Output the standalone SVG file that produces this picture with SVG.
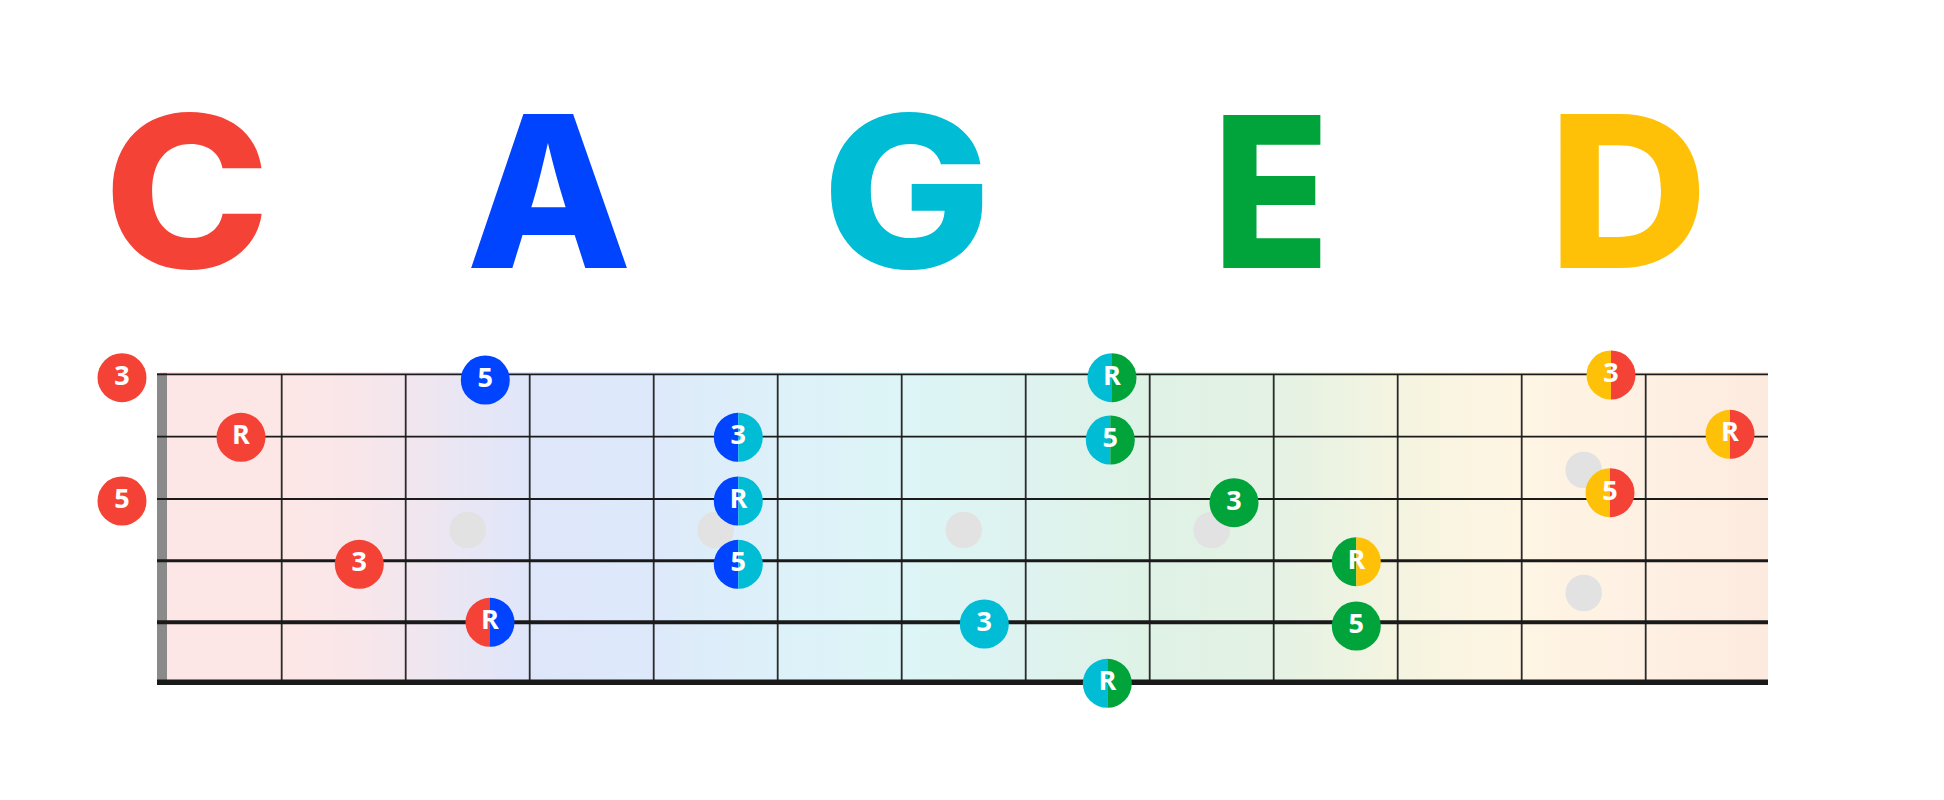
<svg xmlns="http://www.w3.org/2000/svg" width="1944" height="800" viewBox="0 0 1944 800">
<defs>
<linearGradient id="bg" x1="167" y1="0" x2="1768" y2="0" gradientUnits="userSpaceOnUse">
<stop offset="0" stop-color="#FDE6E6"/>
<stop offset="0.0706" stop-color="#FDE6E6"/>
<stop offset="0.1018" stop-color="#FBE6E8"/>
<stop offset="0.1487" stop-color="#F3E6EE"/>
<stop offset="0.1893" stop-color="#E8E6F5"/>
<stop offset="0.2267" stop-color="#DFE6FA"/>
<stop offset="0.3017" stop-color="#DDE9FA"/>
<stop offset="0.3829" stop-color="#DDF1F9"/>
<stop offset="0.4578" stop-color="#DDF5F7"/>
<stop offset="0.5359" stop-color="#DEF3F0"/>
<stop offset="0.614" stop-color="#DFF2E6"/>
<stop offset="0.692" stop-color="#E4F2E4"/>
<stop offset="0.7702" stop-color="#F5F4E0"/>
<stop offset="0.8451" stop-color="#FEF5E3"/>
<stop offset="0.914" stop-color="#FEF1E3"/>
<stop offset="1" stop-color="#FDEADF"/>
</linearGradient>
<path id="hl" d="M0,-24.5A24.5,24.5 0 0 0 0,24.5Z"/>
<path id="hr" d="M0,-24.5A24.5,24.5 0 0 1 0,24.5Z"/>
</defs>
<style>
.big{font-family:Inter,"Liberation Sans",sans-serif;font-weight:800;font-size:211px;text-anchor:middle}
.lbl{font-family:"Open Sans","DejaVu Sans",sans-serif;font-weight:700;font-size:27px;fill:#fff;text-anchor:middle}
.fret{stroke:#2a2a2a;stroke-width:1.8}
.str{stroke:#1a1a1a}
.dot{fill:#e2e2e2}
.red{fill:#F44336}
.blue{fill:#0044FF}
.cyan{fill:#00BCD4}
.green{fill:#00A43A}
.yellow{fill:#FFC107}
</style>
<rect width="1944" height="800" fill="#fff"/>

<g id="title">
<text class="big red" transform="translate(187,267.7) scale(1.06,1)">C</text>
<text class="big blue" transform="translate(549,267.7) scale(1.02,1)">A</text>
<text class="big cyan" transform="translate(907,267.7) scale(1.07,1)">G</text>
<text class="big green" transform="translate(1271,267.7) scale(0.91,1)">E</text>
<text class="big yellow" transform="translate(1628,267.7) scale(1.05,1)">D</text>
</g>

<g id="fretboard">
<rect x="160" y="372" width="1608" height="312" fill="url(#bg)"/>
<rect x="157" y="373" width="10" height="311" fill="#8a8a8a"/>
<g id="frets">
<line class="fret" x1="281.7" y1="374" x2="281.7" y2="682"/>
<line class="fret" x1="405.7" y1="374" x2="405.7" y2="682"/>
<line class="fret" x1="529.7" y1="374" x2="529.7" y2="682"/>
<line class="fret" x1="653.7" y1="374" x2="653.7" y2="682"/>
<line class="fret" x1="777.7" y1="374" x2="777.7" y2="682"/>
<line class="fret" x1="901.7" y1="374" x2="901.7" y2="682"/>
<line class="fret" x1="1025.7" y1="374" x2="1025.7" y2="682"/>
<line class="fret" x1="1149.7" y1="374" x2="1149.7" y2="682"/>
<line class="fret" x1="1273.7" y1="374" x2="1273.7" y2="682"/>
<line class="fret" x1="1397.7" y1="374" x2="1397.7" y2="682"/>
<line class="fret" x1="1521.7" y1="374" x2="1521.7" y2="682"/>
<line class="fret" x1="1645.7" y1="374" x2="1645.7" y2="682"/>
</g>
<g id="strings">
<line class="str" x1="157" y1="374.3" x2="1768" y2="374.3" stroke-width="1.8"/>
<line class="str" x1="157" y1="436.7" x2="1768" y2="436.7" stroke-width="1.8"/>
<line class="str" x1="157" y1="499" x2="1768" y2="499" stroke-width="1.8"/>
<line class="str" x1="157" y1="560.7" x2="1768" y2="560.7" stroke-width="3"/>
<line class="str" x1="157" y1="622.3" x2="1768" y2="622.3" stroke-width="4"/>
<line class="str" x1="157" y1="682.3" x2="1768" y2="682.3" stroke-width="5.5"/>
</g>
<g id="inlays">
<circle class="dot" cx="467.7" cy="530" r="18.3"/>
<circle class="dot" cx="715.7" cy="530" r="18.3"/>
<circle class="dot" cx="963.7" cy="530" r="18.3"/>
<circle class="dot" cx="1211.7" cy="530" r="18.3"/>
<circle class="dot" cx="1583.7" cy="470" r="18.3"/>
<circle class="dot" cx="1583.7" cy="593" r="18.3"/>
</g>
</g>

<g id="connectors"></g>

<g id="c-3-open" transform="translate(122,377.7)"><circle r="24.5" class="red"/><text class="lbl" y="7">3</text></g>
<g id="c-5-open" transform="translate(122,501)"><circle r="24.5" class="red"/><text class="lbl" y="7">5</text></g>
<g id="c-r" transform="translate(241,437.3)"><circle r="24.5" class="red"/><text class="lbl" y="7">R</text></g>
<g id="c-3" transform="translate(359.3,564.3)"><circle r="24.5" class="red"/><text class="lbl" y="7">3</text></g>
<g id="a-5" transform="translate(485.3,380)"><circle r="24.5" class="blue"/><text class="lbl" y="7">5</text></g>
<g id="ca-r" transform="translate(490,622.3)"><use href="#hl" class="red"/><use href="#hr" class="blue"/><text class="lbl" y="7">R</text></g>

<g id="ag-3" transform="translate(738.3,437.3)"><use href="#hl" class="blue"/><use href="#hr" class="cyan"/><text class="lbl" y="7">3</text></g>
<g id="ag-r" transform="translate(738.3,501)"><use href="#hl" class="blue"/><use href="#hr" class="cyan"/><text class="lbl" y="7">R</text></g>
<g id="ag-5" transform="translate(738.3,564.3)"><use href="#hl" class="blue"/><use href="#hr" class="cyan"/><text class="lbl" y="7">5</text></g>
<g id="g-3" transform="translate(984.3,624)"><circle r="24.5" class="cyan"/><text class="lbl" y="7">3</text></g>

<g id="ge-r-top" transform="translate(1112,377.7)"><use href="#hl" class="cyan"/><use href="#hr" class="green"/><text class="lbl" y="7">R</text></g>
<g id="ge-5" transform="translate(1110.3,440)"><use href="#hl" class="cyan"/><use href="#hr" class="green"/><text class="lbl" y="7">5</text></g>
<g id="ge-r-low" transform="translate(1107.3,683.3)"><use href="#hl" class="cyan"/><use href="#hr" class="green"/><text class="lbl" y="7">R</text></g>
<g id="e-3" transform="translate(1234,502.7)"><circle r="24.5" class="green"/><text class="lbl" y="7">3</text></g>
<g id="ed-r" transform="translate(1356.3,561.7)"><use href="#hl" class="green"/><use href="#hr" class="yellow"/><text class="lbl" y="7">R</text></g>
<g id="e-5" transform="translate(1356.3,626)"><circle r="24.5" class="green"/><text class="lbl" y="7">5</text></g>

<g id="dc-3" transform="translate(1611,375)"><use href="#hl" class="yellow"/><use href="#hr" class="red"/><text class="lbl" y="7">3</text></g>
<g id="dc-r" transform="translate(1730,434.3)"><use href="#hl" class="yellow"/><use href="#hr" class="red"/><text class="lbl" y="7">R</text></g>
<g id="dc-5" transform="translate(1610,492.7)"><use href="#hl" class="yellow"/><use href="#hr" class="red"/><text class="lbl" y="7">5</text></g>
</svg>
